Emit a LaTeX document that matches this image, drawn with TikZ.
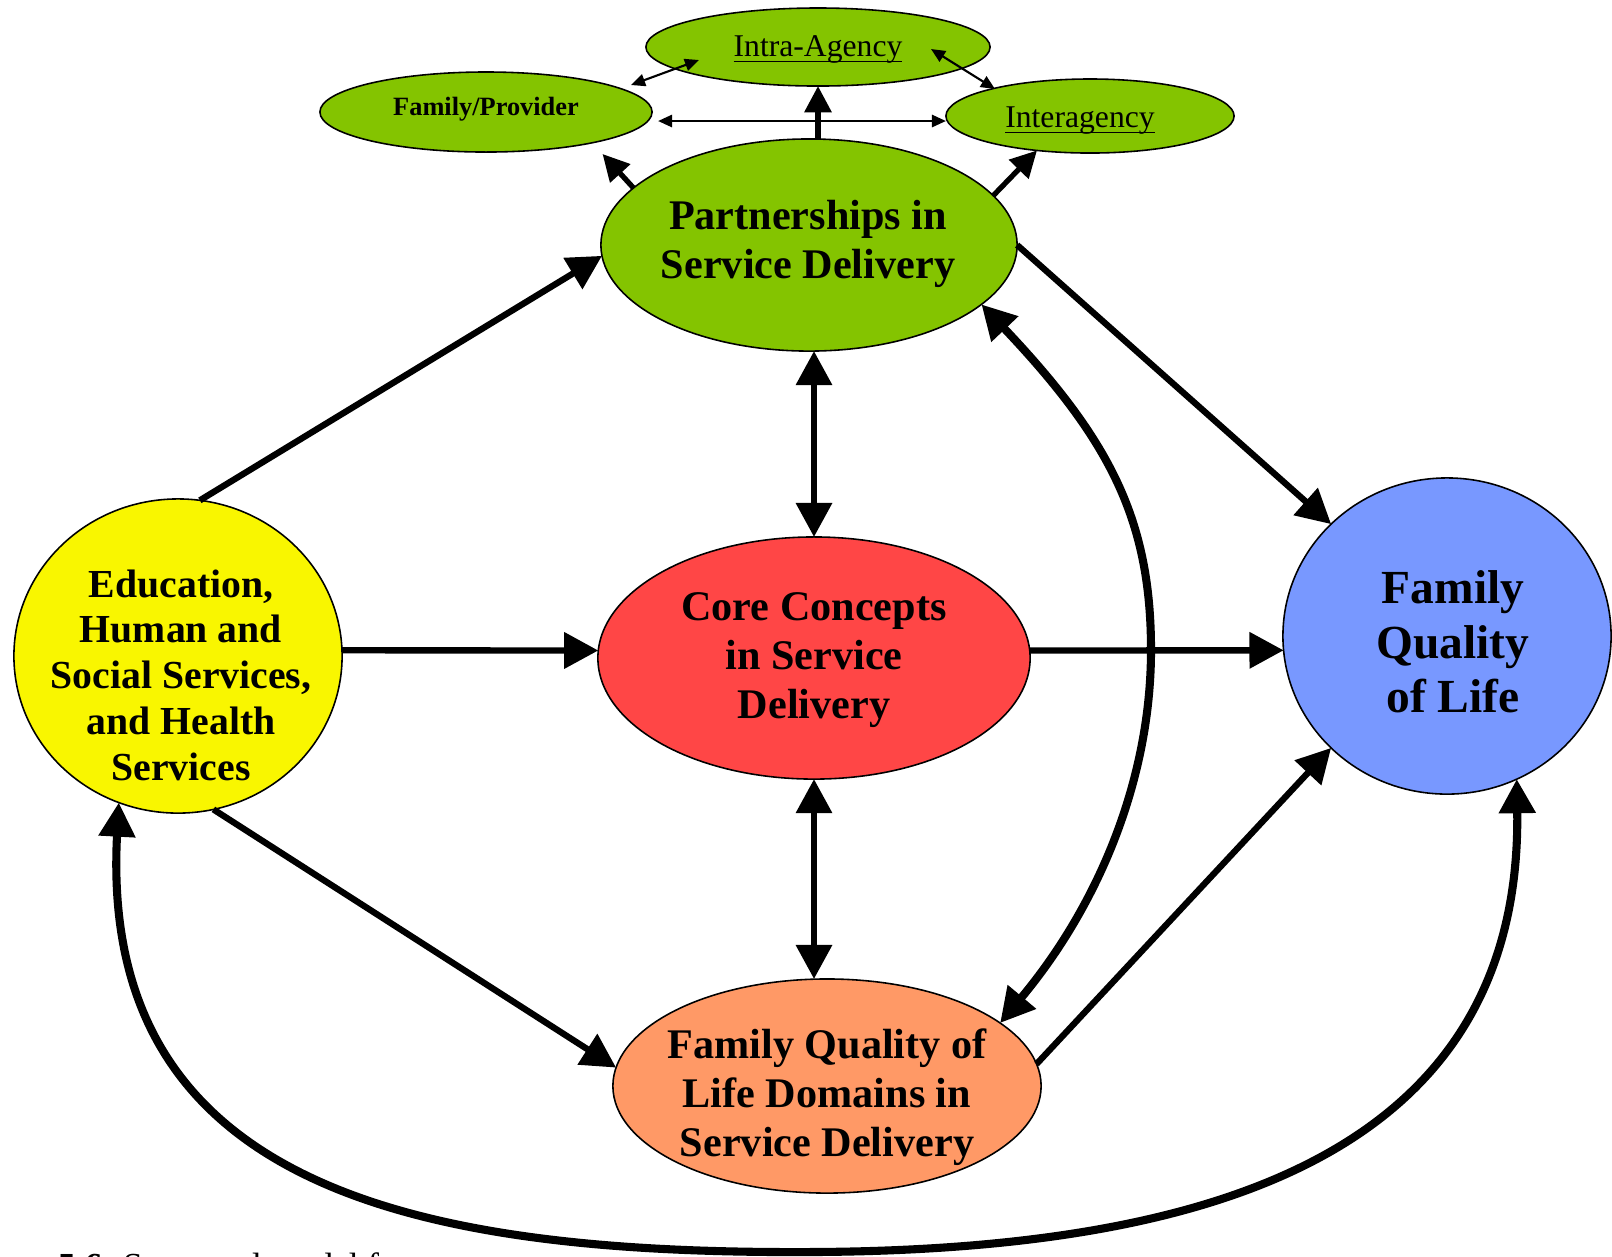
\documentclass[tikz,border=0pt]{standalone}
\usepackage{amsmath}
\usepackage{fontspec}
\setmainfont{Liberation Serif}
\usetikzlibrary{shapes.geometric,arrows.meta}

\definecolor{partgreen}{RGB}{132,196,0}
\definecolor{corered}{RGB}{255,70,70}
\definecolor{domorange}{RGB}{255,153,102}
\definecolor{eduyellow}{RGB}{249,246,0}
\definecolor{fqolblue}{RGB}{120,152,255}

% underline that runs through the descenders
\newcommand{\lowline}[1]{\underline{\smash[b]{#1}}}

\begin{document}
\begin{tikzpicture}[x=0.01cm, y=-0.01cm,
    >={Triangle[length=9.7pt,width=10pt]},
    bubble/.style={ellipse, draw, line width=0.45pt, inner sep=0pt, outer sep=0pt},
    bigtext/.style={align=center, font=\fontsize{12}{14}\selectfont\bfseries},
    mainarrow/.style={->, line width=1.8pt},
    bothways/.style={<->, line width=1.8pt},
    curvearrow/.style={<->, line width=2.3pt},
    midarrow/.style={-{Triangle[length=7.5pt,width=7.5pt]}, line width=1.5pt},
    thinarrow/.style={{Triangle[length=4pt,width=3.5pt]}-{Triangle[length=4pt,width=3.5pt]}, line width=0.6pt}]
    \useasboundingbox (0,0) rectangle (1612,1256);

    % Main ellipses and circles
    \node[bubble, fill=partgreen, minimum width=4.16cm, minimum height=2.12cm] (part) at (809,245) {};
    \node[bubble, fill=corered, minimum width=4.32cm, minimum height=2.42cm] (core) at (814,658) {};
    \node[bubble, fill=domorange, minimum width=4.28cm, minimum height=2.14cm] (dom) at (827,1086) {};
    \node[bubble, fill=eduyellow, minimum width=3.28cm, minimum height=3.14cm] (edu) at (178,656) {};
    \node[bubble, fill=fqolblue, minimum width=3.28cm, minimum height=3.16cm] (fqol) at (1447,636) {};

    % Their texts
    \node[bigtext] (parttext) at (808,244) {Partnerships in\\Service Delivery};
    \node[bigtext] (coretext) at (814,660) {Core Concepts\\in Service\\Delivery};
    \node[bigtext] (domtext) at (827,1097) {Family Quality of\\Life Domains in\\Service Delivery};
    \node[bigtext, font=\fontsize{11.3}{13}\selectfont\bfseries] (edutext) at (181,675) {Education,\\Human and\\Social Services,\\and Health\\Services};
    \node[bigtext, font=\fontsize{13.5}{15.5}\selectfont\bfseries] (fqoltext) at (1453,642) {Family\\Quality\\of Life};

    % Small partner ellipses
    \node[bubble, fill=partgreen, minimum width=3.32cm, minimum height=0.8cm, font=\fontsize{7.5}{9}\selectfont\bfseries] (fam) at (486,112) {Family/Provider\rule[-3.5pt]{0pt}{3.5pt}};
    \node[bubble, fill=partgreen, minimum width=3.44cm, minimum height=0.78cm, font=\fontsize{9}{11}\selectfont] (intra) at (818,47) {\lowline{Intra-Agency}\rule{0pt}{7.3pt}};
    \node[bubble, fill=partgreen, minimum width=2.88cm, minimum height=0.74cm, font=\fontsize{9}{11}\selectfont] (inter) at (1090,116) {\lowline{Interagency}\rule{0pt}{8.5pt}\kern 0.2cm};

    % From education and services
    \draw[mainarrow] (edu.82) -- (part.183);
    \draw[mainarrow] (edu.2) -- (core.178);
    \draw[mainarrow] (edu.-77) -- (dom.175);

    % Into family quality of life
    \draw[mainarrow] (core.2) -- (fqol.185);
    \draw[mainarrow] (part.east) -- (fqol.136);
    \draw[mainarrow] (dom.6.5) -- (fqol.224.5);

    % Two-way links
    \draw[bothways] (core.north |- part.south) -- (core.north);
    \draw[bothways] (core.south) -- (core.south |- dom.north);
    \draw[curvearrow] (part.-19.5) .. controls (1110,440) and (1151,520) .. (1151,650)
        .. controls (1151,780) and (1098,906) .. (dom.20.4);
    \draw[curvearrow] (edu.248.3) .. controls (98,1190) and (420,1254) .. (812,1252)
        .. controls (1200,1250) and (1522,1160) .. (fqol.-64.6);

    % Partnerships branches
    \draw[midarrow] (part.162.3) -- ++(-31,-34);
    \draw[midarrow] (part.15.9) -- (inter.213.7);
    \draw[midarrow] (intra.south |- part.north) -- (intra.south);
    \draw[thinarrow] ([shift={(6,9)}]fam.east) -- ([shift={(0,5)}]inter.west);
    \draw[thinarrow] ([shift={(145,-27)}]fam.center) -- ([shift={(-119,13)}]intra.center);
    \draw[thinarrow] ([shift={(113,2)}]intra.center) -- ([shift={(-95,-27)}]inter.center);

    % Caption, cut by the page edge
    \node[anchor=base west, font=\fontsize{10}{12}\selectfont] (caption) at (-62,1277) {\textbf{Figure 5.6}\hspace{6pt}Structural model for};
\end{tikzpicture}
\end{document}
